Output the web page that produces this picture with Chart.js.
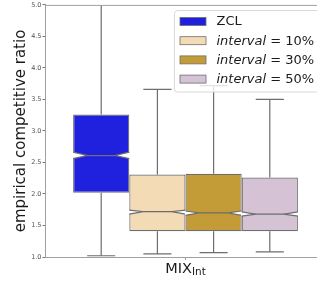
<!DOCTYPE html>
<html>
<head>
<meta charset="utf-8">
<script src="https://cdn.jsdelivr.net/npm/chart.js@4/dist/chart.umd.min.js"></script>
<style>
html,body{margin:0;padding:0;background:#fff;overflow:hidden;}
#wrap{width:317px;height:282px;overflow:hidden;position:relative;}
canvas{display:block;}
</style>
</head>
<body>
<div id="wrap"><canvas id="c" width="330" height="282"></canvas></div>
<script>
// ---- data ----
const categories = ['MIX'];
const xLabelMain = 'MIX';
const xLabelSub = 'Int';
const yTitle = 'empirical competitive ratio';
const seriesNames = ['ZCL', '10%', '30%', '50%'];
const legendItalic = ['', 'interval', 'interval', 'interval'];
const legendRest = ['ZCL', ' = 10%', ' = 30%', ' = 50%'];
const whiskerLow  = [1.02, 1.05, 1.07, 1.08];
const q1          = [2.02, 1.41, 1.41, 1.41];
const median      = [2.61, 1.72, 1.70, 1.68];
const q3          = [3.26, 2.31, 2.32, 2.26];
const whiskerHigh = [5.20, 3.66, 3.72, 3.50];
const notchLow    = [2.56, 1.68, 1.66, 1.65];
const notchHigh   = [2.665, 1.745, 1.73, 1.715];
const yTicks = [1.0, 1.5, 2.0, 2.5, 3.0, 3.5, 4.0, 4.5, 5.0];
const colors = ['#2020df', '#f3dbb6', '#c39b37', '#d5c2d5'];
const edge = '#6e6e6e';

const boxPlugin = {
  id: 'boxes',
  afterDatasetsDraw(chart) {
    const ctx = chart.ctx, y = chart.scales.y, a = chart.chartArea;
    ctx.save();
    ctx.beginPath(); ctx.rect(a.left, a.top, a.right - a.left, a.bottom - a.top); ctx.clip();
    chart.data.datasets.forEach((ds, i) => {
      const el = chart.getDatasetMeta(i).data[0];
      const cx = el.x, w = el.width, L = cx - w / 2, R = cx + w / 2;
      ctx.strokeStyle = edge; ctx.lineWidth = 1.2;
      const yq1 = y.getPixelForValue(q1[i]), yq3 = y.getPixelForValue(q3[i]);
      const ylo = y.getPixelForValue(whiskerLow[i]), yhi = y.getPixelForValue(whiskerHigh[i]);
      ctx.beginPath();
      ctx.moveTo(cx, yq1); ctx.lineTo(cx, ylo);
      ctx.moveTo(cx, yq3); ctx.lineTo(cx, yhi);
      ctx.moveTo(cx - w / 4, ylo); ctx.lineTo(cx + w / 4, ylo);
      ctx.moveTo(cx - w / 4, yhi); ctx.lineTo(cx + w / 4, yhi);
      ctx.stroke();
      const ym = y.getPixelForValue(median[i]);
      const yn1 = y.getPixelForValue(notchHigh[i]), yn2 = y.getPixelForValue(notchLow[i]);
      const ind = w / 4;
      ctx.fillStyle = '#fff';
      ctx.beginPath();
      ctx.moveTo(L - 0.6, yn1); ctx.lineTo(L + ind, ym); ctx.lineTo(L - 0.6, yn2); ctx.closePath(); ctx.fill();
      ctx.beginPath();
      ctx.moveTo(R + 0.6, yn1); ctx.lineTo(R - ind, ym); ctx.lineTo(R + 0.6, yn2); ctx.closePath(); ctx.fill();
      ctx.beginPath();
      ctx.moveTo(L, yn1); ctx.lineTo(L + ind, ym); ctx.lineTo(L, yn2);
      ctx.moveTo(R, yn1); ctx.lineTo(R - ind, ym); ctx.lineTo(R, yn2);
      ctx.moveTo(L + ind, ym); ctx.lineTo(R - ind, ym);
      ctx.stroke();
    });
    ctx.restore();
  },
  afterDraw(chart) {
    const ctx = chart.ctx, a = chart.chartArea, x = chart.scales.x;
    ctx.save();
    ctx.strokeStyle = '#a0a0a0'; ctx.lineWidth = 1;
    ctx.beginPath(); ctx.moveTo(a.left, a.top + 0.5); ctx.lineTo(a.right, a.top + 0.5); ctx.stroke();
    const cx = x.getPixelForValue(0);
    ctx.fillStyle = '#1a1a1a'; ctx.textBaseline = 'alphabetic'; ctx.textAlign = 'left';
    ctx.font = '14.5px "DejaVu Sans"';
    const wm = ctx.measureText(xLabelMain).width;
    ctx.font = '10.5px "DejaVu Sans"';
    const ws = ctx.measureText(xLabelSub).width;
    const x0 = cx - (wm + ws) / 2;
    ctx.font = '14.5px "DejaVu Sans"';
    ctx.fillText(xLabelMain, x0, 272.5);
    ctx.font = '10.5px "DejaVu Sans"';
    ctx.fillText(xLabelSub, x0 + wm, 275);
    const lx = 174.5, ly = 10.5, lw = 160, lh = 81.5, r = 3;
    ctx.fillStyle = 'rgba(255,255,255,0.8)';
    ctx.strokeStyle = '#d8d8d8';
    ctx.beginPath();
    ctx.moveTo(lx + r, ly); ctx.lineTo(lx + lw - r, ly); ctx.quadraticCurveTo(lx + lw, ly, lx + lw, ly + r);
    ctx.lineTo(lx + lw, ly + lh - r); ctx.quadraticCurveTo(lx + lw, ly + lh, lx + lw - r, ly + lh);
    ctx.lineTo(lx + r, ly + lh); ctx.quadraticCurveTo(lx, ly + lh, lx, ly + lh - r);
    ctx.lineTo(lx, ly + r); ctx.quadraticCurveTo(lx, ly, lx + r, ly); ctx.closePath();
    ctx.fill(); ctx.stroke();
    ctx.textBaseline = 'middle';
    for (let i = 0; i < seriesNames.length; i++) {
      const cy = 21.5 + i * 19.2;
      ctx.fillStyle = colors[i]; ctx.strokeStyle = edge; ctx.lineWidth = 0.8;
      ctx.fillRect(180, cy - 4, 26, 8); ctx.strokeRect(180, cy - 4, 26, 8);
      ctx.fillStyle = '#1a1a1a';
      let tx = 216.5;
      if (legendItalic[i]) {
        ctx.font = 'italic 13px "DejaVu Sans"';
        ctx.fillText(legendItalic[i], tx, cy + 0.5);
        tx += ctx.measureText(legendItalic[i]).width;
      }
      ctx.font = '13px "DejaVu Sans"';
      ctx.fillText(legendRest[i], tx, cy + 0.5);
    }
    ctx.restore();
  }
};

new Chart(document.getElementById('c'), {
  type: 'bar',
  data: {
    labels: categories,
    datasets: seriesNames.map((n, i) => ({
      label: n,
      data: [[q1[i], q3[i]]],
      backgroundColor: colors[i],
      borderColor: edge,
      borderWidth: 1.2,
      borderSkipped: false,
      categoryPercentage: 0.8,
      barPercentage: 1.0
    }))
  },
  options: {
    responsive: false,
    animation: false,
    devicePixelRatio: 1,
    layout: { padding: { top: 4, right: 4, left: 0, bottom: 0 } },
    plugins: { legend: { display: false }, tooltip: { enabled: false } },
    scales: {
      x: {
        ticks: { display: false },
        grid: { display: true, drawOnChartArea: false, drawTicks: true, tickLength: 3, offset: false, color: '#a0a0a0' },
        border: { display: true, color: '#a0a0a0', width: 1 },
        afterFit(s) { s.height = 25; }
      },
      y: {
        min: 1, max: 5,
        afterBuildTicks(s) { s.ticks = yTicks.map(v => ({ value: v })); },
        ticks: { font: { family: 'DejaVu Sans', size: 6.5 }, color: '#555', padding: 1,
                 callback: v => Number(v).toFixed(1) },
        grid: { display: true, drawOnChartArea: false, drawTicks: true, tickLength: 2.5, color: '#777' },
        border: { display: true, color: '#a0a0a0', width: 1 },
        title: { display: true, text: yTitle, font: { family: 'DejaVu Sans', size: 15 }, color: '#1a1a1a', padding: { top: 12, bottom: 0 } },
        afterFit(s) { s.width = 45; }
      }
    }
  },
  plugins: [boxPlugin]
});
</script>
</body>
</html>
